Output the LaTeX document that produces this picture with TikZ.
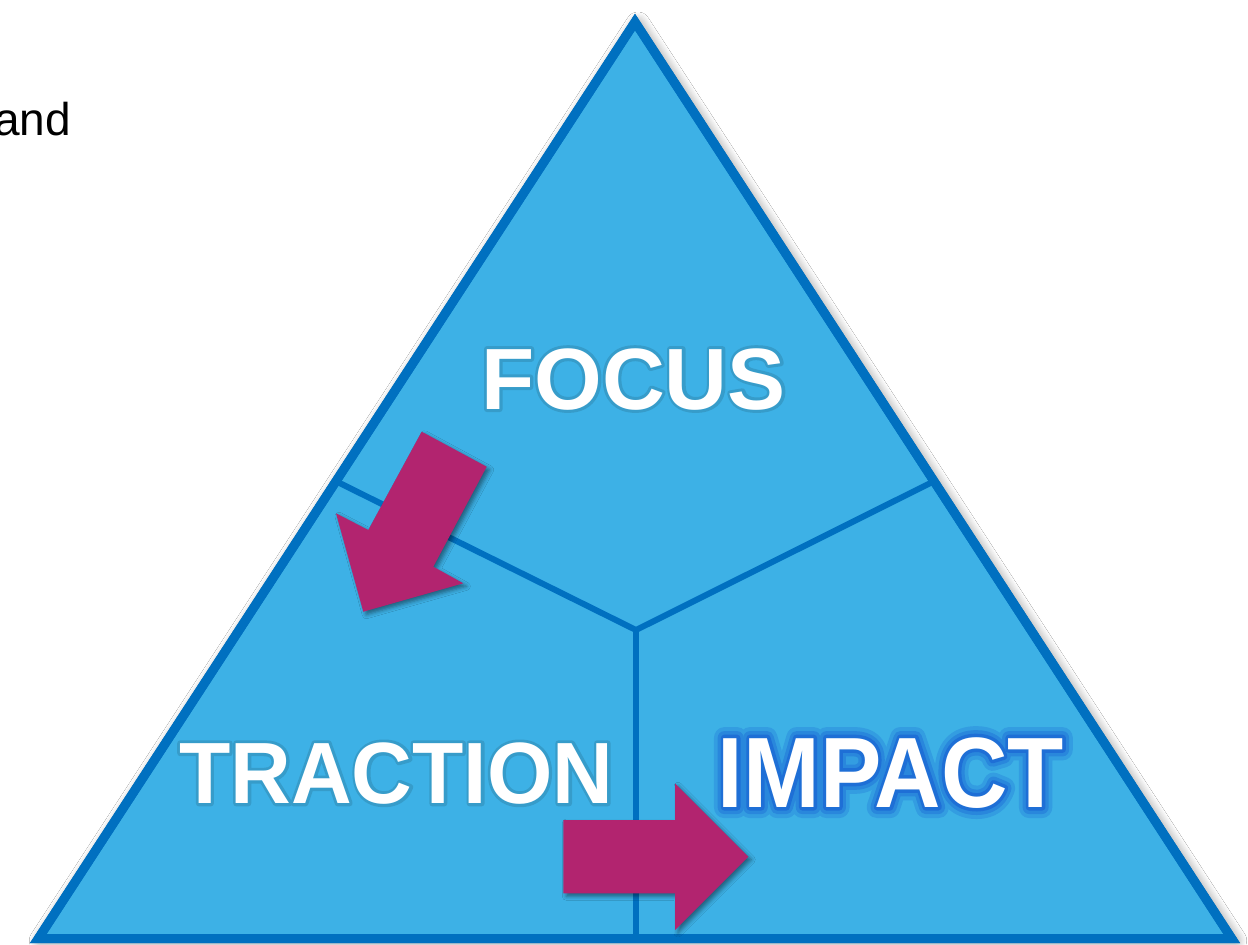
\documentclass[tikz,border=0pt]{standalone}
\usepackage{fontspec}
\usepackage{graphicx}
\setmainfont{Liberation Sans}
\newfontface\glowwide{Liberation Sans Bold}[FakeBold=22]
\newfontface\glowmid{Liberation Sans Bold}[FakeBold=14]
\newfontface\glownarrow{Liberation Sans Bold}[FakeBold=7]
\newfontface\halofont{Liberation Sans Bold}[FakeBold=7]
\usetikzlibrary{shadows.blur}
\definecolor{triFill}{HTML}{3DB1E6}
\definecolor{triLine}{HTML}{0070C0}
\definecolor{arrowMag}{HTML}{B2246F}
\definecolor{glowBlue}{HTML}{1A68D4}
% soft dark halo under white text (size 87)
\newcommand\shadowword[1]{%
  \makebox[0pt][l]{\halofont\fontsize{87}{87}\selectfont\textcolor{triFill!88!black}{#1}}%
  #1}
% blue glow round white text (size 100)
\newcommand\glowword[1]{%
  \makebox[0pt][l]{\glowwide\fontsize{100}{100}\selectfont\textcolor{glowBlue!28!triFill}{#1}}%
  \makebox[0pt][l]{\glowmid\fontsize{100}{100}\selectfont\textcolor{glowBlue!58!triFill}{#1}}%
  \makebox[0pt][l]{\glownarrow\fontsize{100}{100}\selectfont\textcolor{glowBlue!90!triFill}{#1}}%
  #1}
\tikzset{
  trishape/.style={fill=triFill, draw=triLine, line width=9pt, line join=miter,
    blur shadow={shadow xshift=3pt, shadow yshift=-2pt, shadow blur radius=12pt,
      shadow opacity=55, shadow blur steps=12}},
  divider/.style={draw=triLine, line width=6pt, line join=miter},
  bigarrow/.style={fill=arrowMag,
    blur shadow={shadow xshift=3pt, shadow yshift=-3pt, shadow blur radius=4pt, shadow opacity=45}},
  wordA/.style={font=\bfseries\fontsize{87}{87}\selectfont, anchor=base, inner sep=0pt, text=white},
  wordB/.style={font=\bfseries\fontsize{100}{100}\selectfont, anchor=base, inner sep=0pt, text=white},
}
\begin{document}
\begin{tikzpicture}[x=1pt,y=-1pt]
\useasboundingbox (0,0) rectangle (1248,945);
\fill[white] (0,0) rectangle (1248,945);

% text cut off at the left edge, as in the reference
\node[font=\fontsize{46}{46}\selectfont, anchor=base east, inner sep=0pt, text=black] (andtxt) at (71,135) {and};

% triangle
\coordinate (apex) at (635,22);
\coordinate (bl) at (38.3,938.5);
\coordinate (br) at (1231.7,938.5);
\coordinate (ctr) at (636,630);
\coordinate (ldiv) at (335.5,481);
\coordinate (rdiv) at (934.5,481);
\coordinate (bot) at (636,938.5);
\path[trishape] (apex) -- (br) -- (bl) -- cycle;
\draw[divider] (ldiv) -- (ctr) -- (rdiv);
\draw[divider] (ctr) -- (bot);
\draw[triLine, line width=9pt, line join=miter] (apex) -- (br) -- (bl) -- cycle;

\begin{scope}[line join=round]
% words
\node[wordA] (focus) at (633.5,409) {\shadowword{FOCUS}};
\node[wordA] (traction) at (396.3,803.3) {\shadowword{\scalebox{0.966}[1]{TRACTION}}};
\node[wordB] (impact) at (890.8,807) {\glowword{\scalebox{0.92}[1]{IMPACT}}};
\end{scope}

% arrows
\path[bigarrow] (421.7,431.7) -- (486.7,466.7) -- (433.3,566.7) -- (463.3,583.3)
  -- (363.3,611.7) -- (336,513.3) -- (368.3,530) -- cycle;
\path[bigarrow] (563.3,820) -- (675,820) -- (675,783.3) -- (748.3,856.7)
  -- (675,930) -- (675,893.3) -- (563.3,893.3) -- cycle;
\end{tikzpicture}
\end{document}
